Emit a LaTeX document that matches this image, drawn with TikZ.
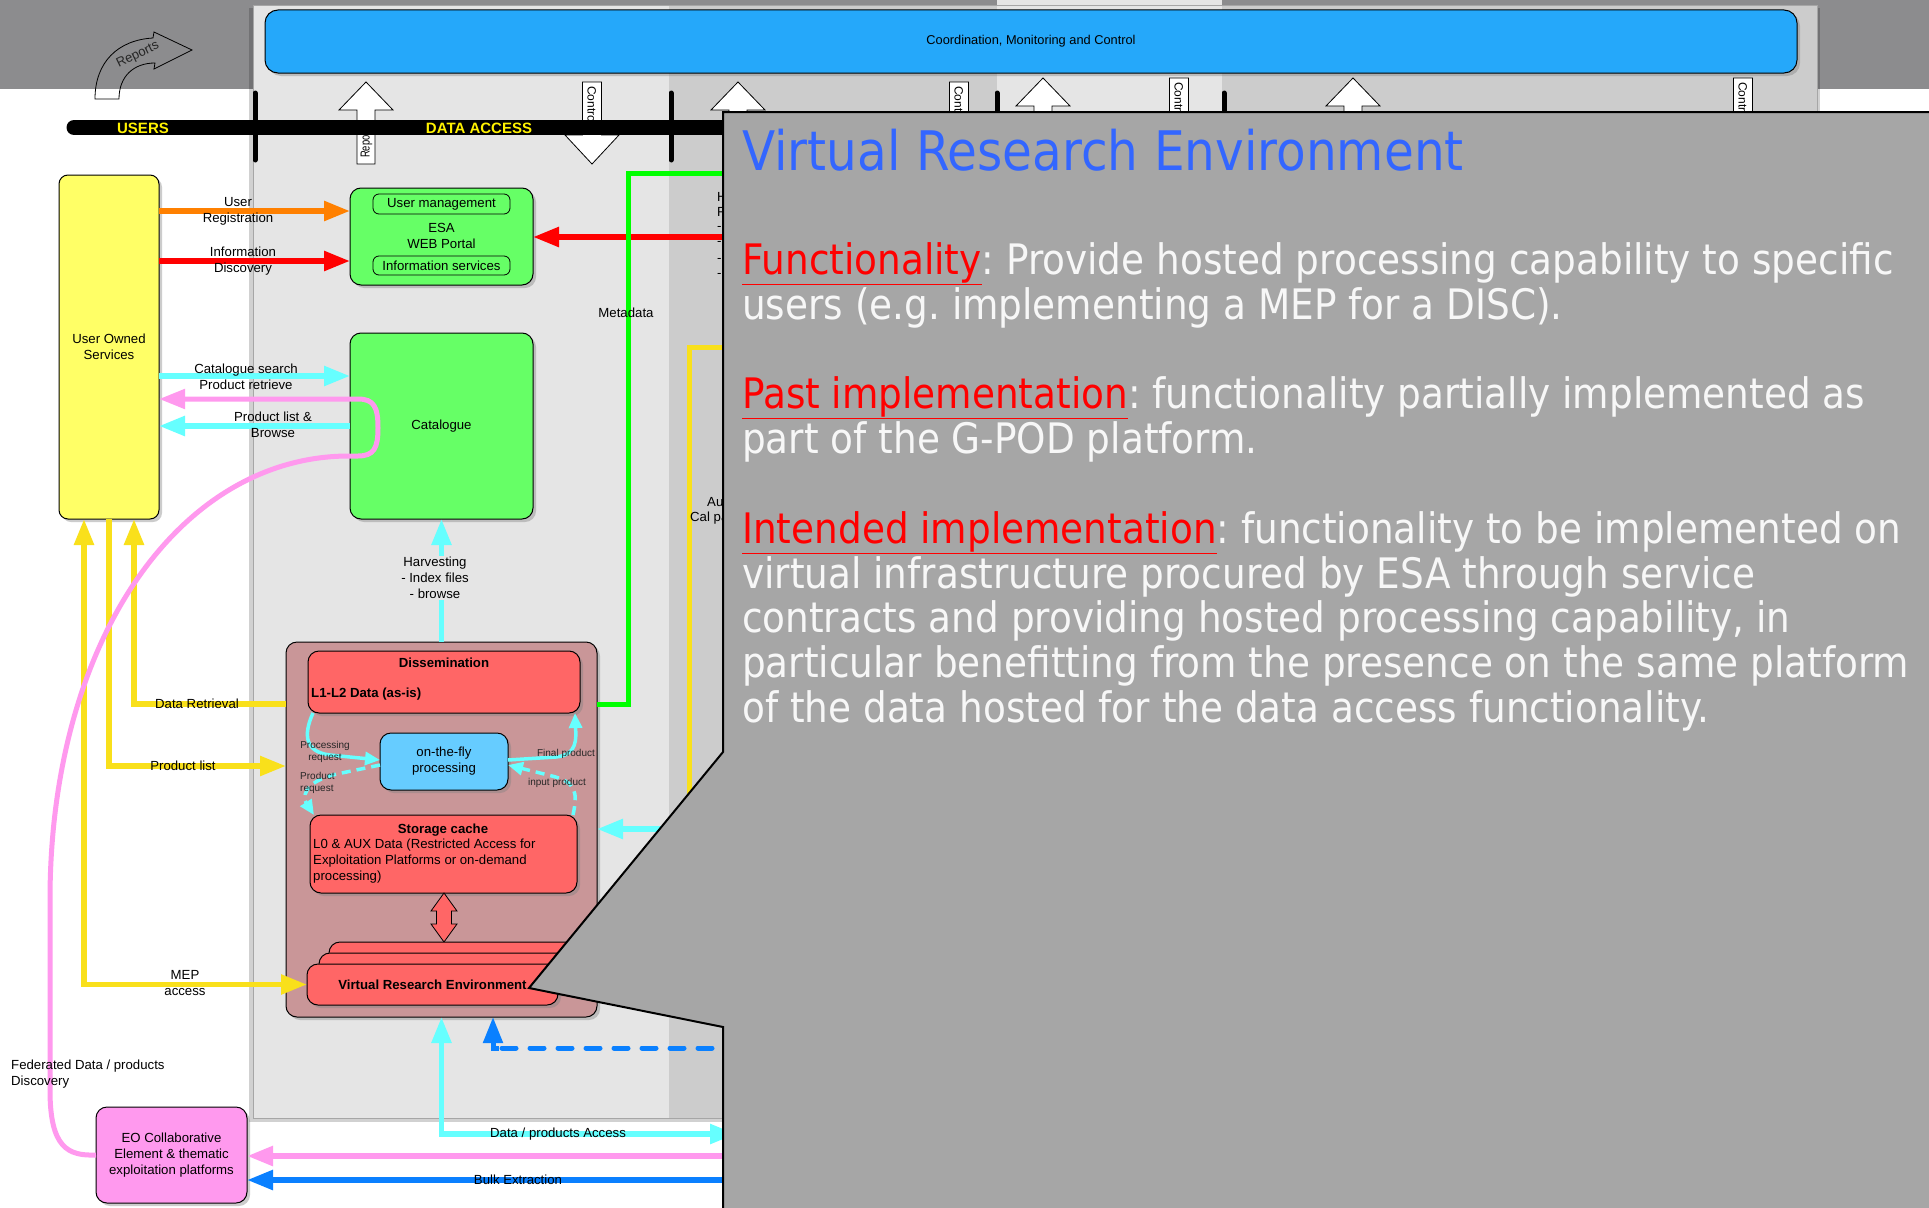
\documentclass[tikz,border=0pt]{standalone}
\usepackage{fontspec}
\setmainfont{Liberation Sans}
\newfontfamily\callfont[FakeStretch=0.89]{DejaVu Sans}
\usetikzlibrary{arrows.meta,shadows,calc}

\definecolor{topgray}{HTML}{8C8C8E}
\definecolor{panel}{HTML}{E5E5E5}
\definecolor{panelcol}{HTML}{CCCCCC}
\definecolor{barblue}{HTML}{25A8FA}
\definecolor{uosyellow}{HTML}{FFFF66}
\definecolor{boxgreen}{HTML}{66FF66}
\definecolor{contpink}{HTML}{C99698}
\definecolor{boxred}{HTML}{FF6666}
\definecolor{flyblue}{HTML}{66CCFF}
\definecolor{eopink}{HTML}{FF99EE}
\definecolor{arrorange}{HTML}{FF8000}
\definecolor{arrred}{HTML}{FF0000}
\definecolor{arrcyan}{HTML}{66FFFF}
\definecolor{arryellow}{HTML}{F9E01B}
\definecolor{arrgreen}{HTML}{00FF00}
\definecolor{arrblue}{HTML}{0A80FF}
\definecolor{callgray}{HTML}{A6A6A6}
\definecolor{calltitle}{HTML}{3366FF}
\definecolor{calltext}{HTML}{F7F7F7}
\definecolor{callhead}{HTML}{FF0000}

\newcommand\CallHead[1]{\textcolor{callhead}{\underline{#1}}}
\frenchspacing

\tikzset{
  BigTip/.tip={Triangle[length=26pt,width=19pt]},
  SmallTip/.tip={Triangle[length=15pt,width=13pt]},
  lbl/.style={font=\fontsize{13.2}{16}\selectfont, align=center, inner sep=0pt, text=black},
  smalllbl/.style={font=\fontsize{10}{12}\selectfont, align=center, inner sep=0pt, text=black!85},
  boldlbl/.style={font=\bfseries\fontsize{13.2}{16}\selectfont, inner sep=0pt, text=black},
  box/.style={draw=black, line width=1pt, rounded corners=9pt, inner sep=0pt, outer sep=0pt,
    anchor=north west, align=center, font=\fontsize{13.2}{16}\selectfont,
    drop shadow={shadow xshift=3pt, shadow yshift=-3pt, opacity=0.4}},
  innerbox/.style={draw=black, line width=0.8pt, rounded corners=6pt, inner sep=0pt, outer sep=0pt,
    anchor=north west, font=\fontsize{13.2}{16}\selectfont, fill=boxgreen},
  flow/.style={line width=5.5pt},
  thinflow/.style={line width=3.5pt, arrcyan},
  blockarr/.style={draw=black, line width=0.8pt, fill=white},
  barsep/.style={line width=5pt, line cap=round},
  ctext/.style={anchor=base west, inner sep=0pt, text=calltext,
    font=\callfont\fontsize{42}{45}\selectfont},
}

\begin{document}
\begin{tikzpicture}[x=1pt,y=-1pt]
\clip (0,0) rectangle (1929,1207);

% ---------- background ----------
\fill[white] (0,0) rectangle (1929,1207);
\fill[topgray] (0,0) rectangle (1929,89);

% data access panel with its columns
\fill[black, opacity=0.18] (249,8) rectangle (1820,1122);
\fill[panel] (253,5) rectangle (1817,1118);
\fill[panelcol] (669,5) rectangle (997,1118);
\fill[panelcol] (1222,5) rectangle (1817,1118);
\fill[panel] (997,0) rectangle (1222,5);
\draw[black!35, line width=0.6pt] (253,5) rectangle (1817,1118);

% coordination bar
\node[box, fill=barblue, minimum width=1532pt, minimum height=63pt, rounded corners=13pt,
  font=\fontsize{12.8}{15}\selectfont] (coord) at (265,10) {Coordination, Monitoring and Control};

% curved "Reports" arrow
\draw[black, line width=0.8pt] (95,99) .. controls (95,62) and (118,40) .. (153,38)
  -- (154,32) -- (192,50) -- (154,69) -- (155,63)
  .. controls (134,63) and (119,76) .. (119,99) -- cycle;
\node[font=\fontsize{13}{15}\selectfont, rotate=26, inner sep=0pt, text=black!85] (repCurve) at (138,55) {Reports};

% block arrows between the layers
\draw[blockarr] (366,82) -- (393,110) -- (375,110) -- (375,164) -- (357,164) -- (357,110) -- (339,110) -- cycle;
\node[font=\fontsize{13}{15}\selectfont, rotate=90, xscale=0.72, anchor=west, inner sep=0pt] (repA) at (366.5,158) {Reports};
\draw[blockarr] (582.5,82) -- (601.5,82) -- (601.5,135) -- (619,135) -- (592,164) -- (565,135) -- (582.5,135) -- cycle;
\node[font=\fontsize{12}{14}\selectfont, rotate=-90, anchor=west, inner sep=0pt] (ctlA) at (592,86) {Control};

\draw[blockarr] (738,82) -- (765,110) -- (747,110) -- (747,164) -- (729,164) -- (729,110) -- (711,110) -- cycle;
\draw[blockarr] (949.5,82) -- (968.5,82) -- (968.5,135) -- (986,135) -- (959,164) -- (932,135) -- (949.5,135) -- cycle;
\node[font=\fontsize{12}{14}\selectfont, rotate=-90, anchor=west, inner sep=0pt] (ctlB) at (959,86) {Control};
\draw[blockarr] (1043,78) -- (1070,106) -- (1052,106) -- (1052,164) -- (1034,164) -- (1034,106) -- (1016,106) -- cycle;
\draw[blockarr] (1169.5,78) -- (1188.5,78) -- (1188.5,135) -- (1206,135) -- (1179,164) -- (1152,135) -- (1169.5,135) -- cycle;
\node[font=\fontsize{12}{14}\selectfont, rotate=-90, anchor=west, inner sep=0pt] (ctlC) at (1179,82) {Control};
\draw[blockarr] (1353,78) -- (1380,106) -- (1362,106) -- (1362,164) -- (1344,164) -- (1344,106) -- (1326,106) -- cycle;
\draw[blockarr] (1733.5,78) -- (1752.5,78) -- (1752.5,135) -- (1770,135) -- (1743,164) -- (1716,135) -- (1733.5,135) -- cycle;
\node[font=\fontsize{12}{14}\selectfont, rotate=-90, anchor=west, inner sep=0pt] (ctlD) at (1743,82) {Control};

% layer bar
\draw[line width=15pt, line cap=round] (74,127.5) -- (760,127.5);
\foreach \sx in {255,671,997,1224} \draw[barsep] (\sx,93) -- (\sx,160);
\node[font=\bfseries\fontsize{15}{18}\selectfont, text=yellow, inner sep=0pt] (tUsers) at (143,128) {USERS};
\node[font=\bfseries\fontsize{15}{18}\selectfont, text=yellow, inner sep=0pt] (tAccess) at (479,128) {DATA ACCESS};

% ---------- boxes ----------
\node[box, fill=uosyellow, minimum width=100pt, minimum height=344pt] (uos) at (59,175) {User Owned\\Services};

\node[box, fill=boxgreen, minimum width=183pt, minimum height=97pt, rounded corners=11pt] (portal) at (350,188) {};
\node[innerbox, minimum width=137pt, minimum height=20pt] (um) at (373,194) {User management};
\node[innerbox, minimum width=137pt, minimum height=19pt] (infos) at (373,256) {Information services};
\node[lbl] (portalT) at (441.5,235.5) {ESA\\WEB Portal};

\node[box, fill=boxgreen, minimum width=183pt, minimum height=186pt, rounded corners=11pt] (cat) at (350,333) {Catalogue};

\node[box, fill=contpink, minimum width=311pt, minimum height=375pt, rounded corners=11pt] (cont) at (286,642) {};
\node[box, fill=boxred, minimum width=272pt, minimum height=62pt, rounded corners=11pt] (dis) at (308,651) {};
\node[boldlbl] (disT) at (444,663) {Dissemination};
\node[boldlbl, anchor=west] (disL) at (311,694) {L1-L2 Data (as-is)};

\node[box, fill=flyblue, minimum width=128pt, minimum height=57pt, rounded corners=11pt] (fly) at (380,733) {on-the-fly\\processing};

\node[box, fill=boxred, minimum width=267pt, minimum height=78pt, rounded corners=11pt] (store) at (310,815) {};
\node[boldlbl] (storeT) at (443,830) {Storage cache};
\node[lbl, align=left, anchor=west] (storeL) at (313,861) {L0 \& AUX Data (Restricted Access for\\Exploitation Platforms or on-demand\\processing)};

\draw[draw=black, line width=0.8pt, fill=boxred] (444,893) -- (457,911) -- (451.5,911) -- (451.5,924) -- (457,924)
  -- (444,942) -- (431,924) -- (436.5,924) -- (436.5,911) -- (431,911) -- cycle;

\node[box, fill=boxred, minimum width=251pt, minimum height=40pt, rounded corners=11pt] (vreB2) at (329,942) {};
\node[box, fill=boxred, minimum width=253pt, minimum height=40pt, rounded corners=11pt] (vreB1) at (319,953) {};
\node[box, fill=boxred, minimum width=251pt, minimum height=41pt, rounded corners=11pt,
  font=\bfseries\fontsize{13.2}{16}\selectfont] (vre) at (307,964) {Virtual Research Environment};

\node[box, fill=eopink, minimum width=151pt, minimum height=96pt, rounded corners=11pt] (eo) at (96,1107)
  {EO Collaborative\\Element \& thematic\\exploitation platforms};

% free ends of the connectors leaving to the right
\coordinate (redR) at (740,237);
\coordinate (greenR) at (740,173);
\coordinate (yelR) at (740,347);
\coordinate (cyanR) at (740,829);
\coordinate (dpR) at (736,1134);
\coordinate (pinkR) at (740,1156);
\coordinate (bulkR) at (740,1180);
\coordinate (dashR) at (740,1048);

% ---------- connectors ----------
\draw[flow, arrorange, -{BigTip}] (uos.east |- 0,211) -- (portal.west |- 0,211);
\draw[flow, arrred, -{BigTip}] (uos.east |- 0,261) -- (portal.west |- 0,261);
\draw[flow, arrred, -{BigTip}] (redR) -- (portal.east |- 0,237);
\draw[flow, arrcyan, -{BigTip}] (uos.east |- 0,376) -- (cat.west |- 0,376);
\draw[flow, arrcyan, -{BigTip}] (cat.west |- 0,426) -- (uos.east |- 0,426);
\draw[flow, arrcyan, -{BigTip}] (cont.north -| cat.south) -- (cat.south);
\draw[flow, arrcyan, -{BigTip}] (cyanR) -- (cont.east |- 0,829);
\draw[flow, arrcyan, {BigTip}-{BigTip}] (cont.south) |- (dpR);
\draw[flow, arrgreen, line width=5pt] (cont.east |- 0,704) -- ++(31,0) |- (greenR);
\draw[flow, arryellow, line width=5pt] (yelR) -- ++(-51,0) -- ++(0,480);

\draw[flow, arryellow, {BigTip}-{BigTip}] (uos.south -| 84,0) |- (vre.west);
\draw[flow, arryellow, -{BigTip}] (uos.south -| 109,0) |- (cont.west |- 0,766);
\draw[flow, arryellow, -{BigTip}] (cont.west |- 0,704) -| (uos.south -| 134,0);

\draw[flow, eopink, -{BigTip}] (pinkR) -- (eo.east |- 0,1156);
\draw[flow, arrblue, -{BigTip}] (bulkR) -- (eo.east |- 0,1180);
\draw[flow, arrblue, line width=5pt, dash pattern=on 14pt off 14pt, line cap=round] (dashR) -- (499,1048);
\draw[flow, arrblue, line width=5pt, -{BigTip}] (499,1048) -| (cont.south -| 493,0);

\draw[flow, eopink, line width=5pt, -{BigTip}] (eo.west) .. controls (68,1156) and (50,1148) .. (50,1090)
  -- (50,900) .. controls (50,640) and (180,456) .. (349,456) -- (358,456)
  .. controls (374,456) and (378,448) .. (378,428) .. controls (378,407) and (374,399) .. (358,399)
  -- (uos.east |- 0,399);

% processing loop inside the dissemination block
\draw[thinflow, -{SmallTip}] (dis.south -| 313,0) .. controls (303,735) and (305,752) .. (330,755) -- (fly.west |- 0,760);
\draw[thinflow, dash pattern=on 9pt off 6pt, -{SmallTip}] (fly.west |- 0,765) -- (337,774)
  .. controls (302,782) and (303,798) .. (store.north -| 314,0);
\draw[thinflow, -{SmallTip}] (fly.east |- 0,760) -- (556,757) .. controls (578,755) and (576,738) .. (dis.south -| 575,0);
\draw[thinflow, dash pattern=on 9pt off 6pt, -{SmallTip}] (store.north -| 573,0) .. controls (578,792) and (576,782) .. (552,776)
  -- (fly.east |- 0,765);

% ---------- labels ----------
\node[lbl] (lUser) at (238,211) {User\\Registration};
\node[lbl] (lInfo) at (243,261) {Information\\Discovery};
\node[lbl] (lCat) at (246,377) {Catalogue search\\Product retrieve};
\node[lbl] (lBrowse) at (273,425) {Product list \&\\Browse};
\node[lbl, fill=panel, inner sep=1pt] (lHarv) at (435,578) {Harvesting\\- Index files\\- browse};
\node[lbl] (lMeta) at (626,313) {Metadata};
\node[lbl] (lRetr) at (197,704) {Data Retrieval};
\node[lbl] (lPlist) at (183,766) {Product list};
\node[lbl] (lMep) at (185,983) {MEP\\access};
\node[lbl, align=left, anchor=west] (lFed) at (11,1074) {Federated Data / products\\Discovery};
\node[lbl] (lDp) at (558,1134) {Data / products Access};
\node[lbl] (lBulk) at (518,1180) {Bulk Extraction};
\node[smalllbl] (lPreq) at (325,752) {Processing\\request};
\node[smalllbl, align=left, anchor=west] (lProdreq) at (300,783) {Product\\request};
\node[smalllbl] (lFinal) at (566,754) {Final product};
\node[smalllbl] (lInput) at (557,783) {input product};
\node[lbl, anchor=west] (lAu) at (707,502) {Au};
\node[lbl, anchor=west] (lCal) at (690,518) {Cal pa};
\node[lbl, anchor=west] (lH) at (717,197) {H};
\node[lbl, anchor=west] (lF) at (717,212) {F};
\foreach \ty in {228,243,260,275} \node[lbl, anchor=west] at (717,\ty) {-};

% ---------- callout ----------
\draw[fill=callgray, line width=2pt, line join=miter] (723,112) -- (1945,112) -- (1945,1215) -- (723,1215)
  -- (723,1027) -- (529,988) -- (723,752) -- cycle;

\node[anchor=base west, inner sep=0pt, text=calltitle, font=\callfont\fontsize{54.5}{60}\selectfont] (cTitle)
  at (742,170) {Virtual Research Environment};
\node[ctext] (c1) at (742,274) {\CallHead{Functionality}: Provide hosted processing capability to specific};
\node[ctext] (c2) at (742,319) {users (e.g. implementing a MEP for a DISC).};
\node[ctext] (c3) at (742,408) {\CallHead{Past implementation}: functionality partially implemented as};
\node[ctext] (c4) at (742,453) {part of the G-POD platform.};
\node[ctext] (c5) at (742,543) {\CallHead{Intended implementation}: functionality to be implemented on};
\node[ctext] (c6) at (742,588) {virtual infrastructure procured by ESA through service};
\node[ctext] (c7) at (742,632) {contracts and providing hosted processing capability, in};
\node[ctext] (c8) at (742,677) {particular benefitting from the presence on the same platform};
\node[ctext] (c9) at (742,722) {of the data hosted for the data access functionality.};
\end{tikzpicture}
\end{document}
